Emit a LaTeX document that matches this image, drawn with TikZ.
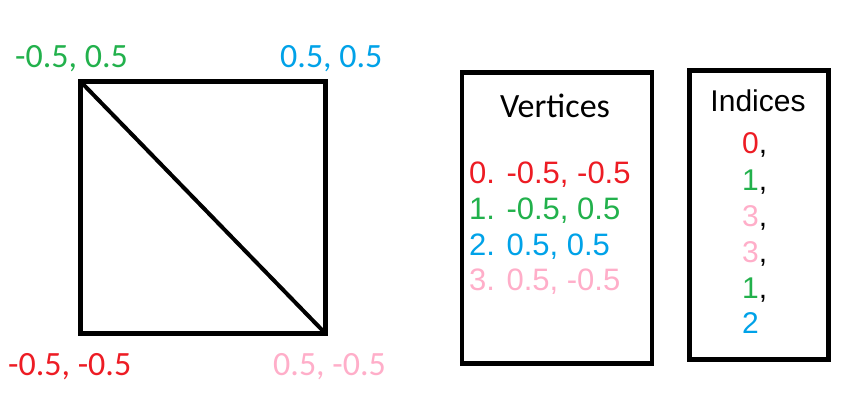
\documentclass[tikz,border=0pt]{standalone}
\usepackage{fontspec}
\setmainfont{Carlito}
\newfontfamily\arialf{Liberation Sans}
\definecolor{pred}{HTML}{ED1C24}
\definecolor{pgreen}{HTML}{22B14C}
\definecolor{pblue}{HTML}{00A2E8}
\definecolor{ppink}{HTML}{FFAEC9}
\tikzset{
  corner/.style={inner sep=0, anchor=base west, font=\fontsize{34}{40}\selectfont},
  listtxt/.style={inner sep=0, anchor=base west, font=\arialf\fontsize{31}{36}\selectfont},
  frame/.style={draw, line width=4.5pt, anchor=north west, inner sep=0},
}
\begin{document}
\begin{tikzpicture}[x=1pt,y=-1pt]
\useasboundingbox[fill=white] (0,0) rectangle (859,416);
% square
\coordinate (tl) at (80.5,81.5);
\coordinate (br) at (325,333);
\draw[line width=5pt] (tl) rectangle (br);
\draw[line width=4pt] (tl) -- (br);
% corner labels
\node[corner, text=pgreen] (lgreen) at (15,67) {-0.5, 0.5};
\node[corner, text=pblue] (lblue) at (280,67) {0.5, 0.5};
\node[corner, text=pred] (lred) at (8,375) {-0.5, -0.5};
\node[corner, text=ppink] (lpink) at (273,375) {0.5, -0.5};
% vertices box
\node[frame, minimum width=190pt, minimum height=291pt] (vbox) at (459.5,70) {};
\node[inner sep=0, anchor=base, font=\fontsize{34}{40}\selectfont] (vtitle) at (555,117) {Vertices};
\node[listtxt, text=pred] (v0) at (469,183) {0. -0.5, -0.5};
\node[listtxt, text=pgreen] (v1) at (469,219) {1. -0.5, 0.5};
\node[listtxt, text=pblue] (v2) at (469,255) {2. 0.5, 0.5};
\node[listtxt, text=ppink] (v3) at (469,290) {3. 0.5, -0.5};
% indices box
\node[frame, minimum width=139pt, minimum height=289pt] (ibox) at (687,68) {};
\node[inner sep=0, anchor=base, font=\arialf\fontsize{30}{36}\selectfont] (ititle) at (758,111) {Indices};
\node[listtxt, font=\arialf\fontsize{30}{36}\selectfont] (i0) at (742,153) {\textcolor{pred}{0},};
\node[listtxt, font=\arialf\fontsize{30}{36}\selectfont] (i1) at (742,190) {\textcolor{pgreen}{1},};
\node[listtxt, font=\arialf\fontsize{30}{36}\selectfont] (i2) at (742,226) {\textcolor{ppink}{3},};
\node[listtxt, font=\arialf\fontsize{30}{36}\selectfont] (i3) at (742,262) {\textcolor{ppink}{3},};
\node[listtxt, font=\arialf\fontsize{30}{36}\selectfont] (i4) at (742,298) {\textcolor{pgreen}{1},};
\node[listtxt, font=\arialf\fontsize{30}{36}\selectfont, text=pblue] (i5) at (742,333) {2};
\end{tikzpicture}
\end{document}
